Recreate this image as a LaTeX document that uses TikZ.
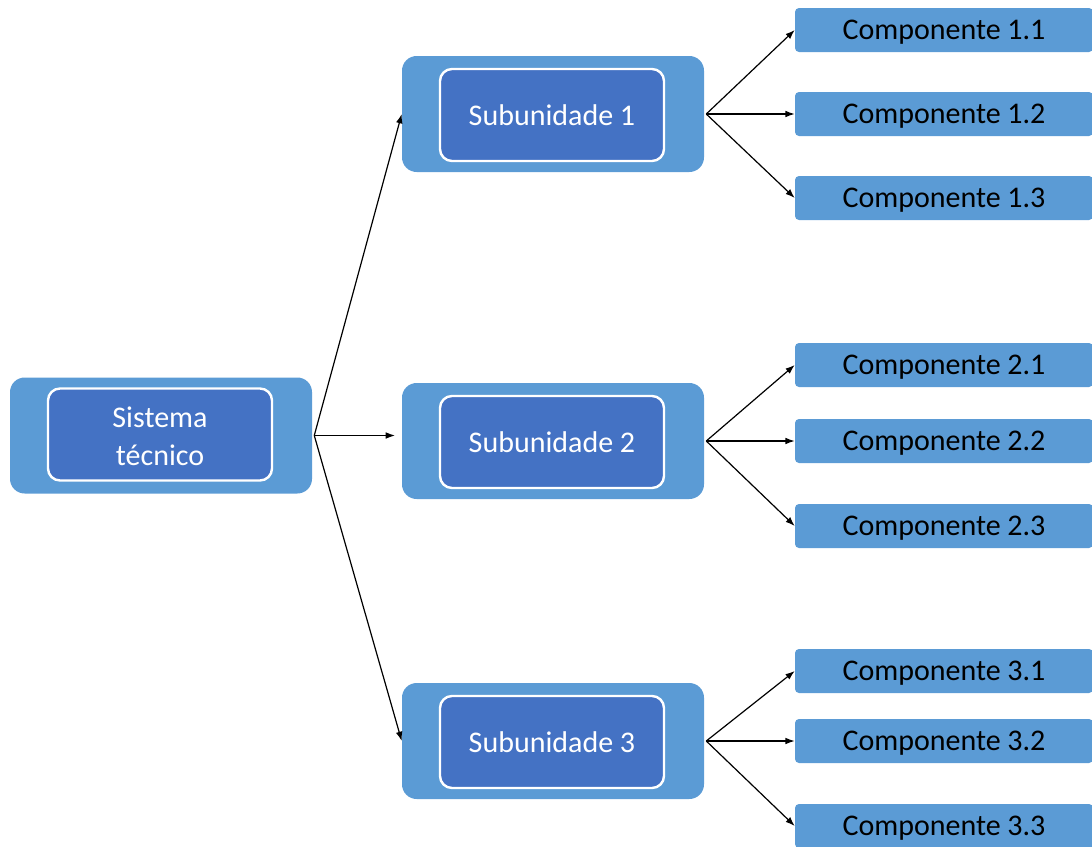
\documentclass[tikz,border=0pt]{standalone}
\usepackage{fontspec}
\setmainfont{Carlito}
\usetikzlibrary{arrows.meta}
\definecolor{outerblue}{HTML}{5B9BD5}
\definecolor{innerblue}{HTML}{4472C4}
\begin{document}
\begin{tikzpicture}[x=0.75pt,y=-0.75pt,
  outerbox/.style={fill=outerblue,draw=none,rounded corners=11pt,
    minimum width=226.5pt,minimum height=87pt,inner sep=0pt},
  innerbox/.style={fill=innerblue,draw=white,line width=1.8pt,rounded corners=9pt,
    minimum width=168pt,minimum height=69pt,inner sep=0pt,text=white,align=center,
    font=\fontsize{22.5}{28.5}\selectfont},
  compbox/.style={fill=outerblue,draw=none,rounded corners=3pt,
    minimum width=223.5pt,minimum height=33pt,inner sep=0pt,text=black,
    text depth=0pt,font=\fontsize{22.5}{28}\selectfont},
  link/.style={draw=black,line width=0.9pt,-{Latex[length=7pt,width=5pt]}}]
\useasboundingbox (0,0) rectangle (1092,846);
\clip (0,0) rectangle (1092,846);

% system level
\node[outerbox] (sys) at (161,435.5) {};
\node[innerbox] (sysin) at (160,434.5) {\raisebox{-3pt}[\height][\depth]{\begin{tabular}{@{}c@{}}Sistema\\técnico\end{tabular}}};

% subunits
\node[outerbox] (s1) at (553,114) {};
\node[innerbox] (s1in) at (552,115) {Subunidade 1};
\node[outerbox] (s2) at (553,441) {};
\node[innerbox] (s2in) at (552,442) {Subunidade 2};
\node[outerbox] (s3) at (553,741) {};
\node[innerbox] (s3in) at (552,742) {Subunidade 3};

% components
\node[compbox] (c11) at (944,30) {Componente 1.1};
\node[compbox] (c12) at (944,114) {Componente 1.2};
\node[compbox] (c13) at (944,198) {Componente 1.3};
\node[compbox] (c21) at (944,365) {Componente 2.1};
\node[compbox] (c22) at (944,441) {Componente 2.2};
\node[compbox] (c23) at (944,526) {Componente 2.3};
\node[compbox] (c31) at (944,671) {Componente 3.1};
\node[compbox] (c32) at (944,741) {Componente 3.2};
\node[compbox] (c33) at (944,826) {Componente 3.3};

% connectors
\coordinate (sysout) at ([xshift=1.5pt]sys.east);
\coordinate (s2tip) at ([xshift=-5pt]s2.west |- sysout);
\draw[link] (sysout) -- (s1.west);
\draw[link] (sysout) -- (s2tip);
\draw[link] (sysout) -- (s3.west);

\coordinate (s1out) at ([xshift=1.5pt]s1.east);
\coordinate (s2out) at ([xshift=1.5pt]s2.east);
\coordinate (s3out) at ([xshift=1.5pt]s3.east);
\foreach \c in {c11,c12,c13} \draw[link] (s1out) -- (\c.west);
\foreach \c in {c21,c22,c23} \draw[link] (s2out) -- (\c.west);
\foreach \c in {c31,c32,c33} \draw[link] (s3out) -- (\c.west);
\end{tikzpicture}
\end{document}
